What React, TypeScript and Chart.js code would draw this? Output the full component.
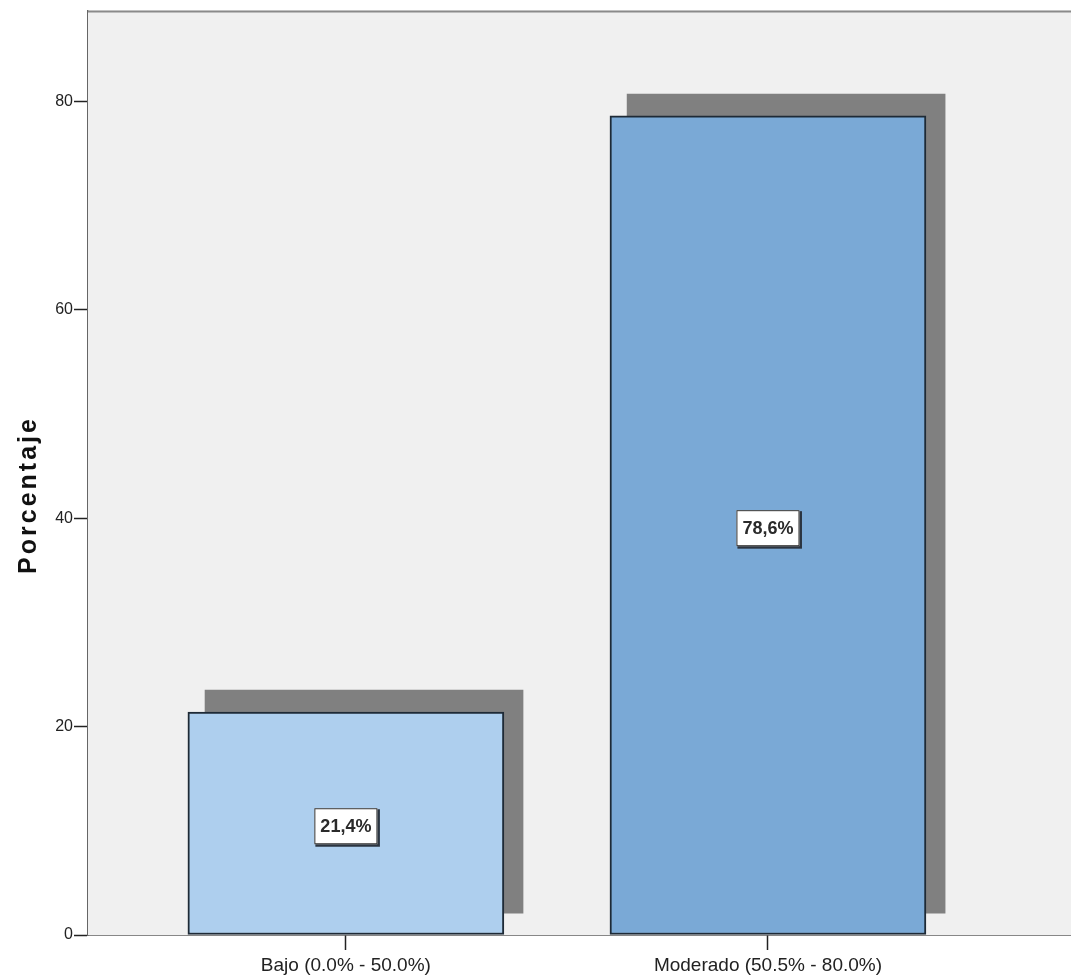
import React, { useEffect, useRef } from "react";
import { Chart, registerables } from "chart.js";

Chart.register(...registerables);

const categories = ["Bajo (0.0% - 50.0%)", "Moderado (50.5% - 80.0%)"];
const percentages = [21.4, 78.6];
const valueLabels = ["21,4%", "78,6%"];
const yTickValues = [0, 20, 40, 60, 80];
const barColors = ["#aecfee", "#7aa9d6"];
const yTitle = "Porcentaje";

// decorative drop shadow offsets (in axis units)
const shadowDx = 0.043;
const shadowBase = 2.1;

const W = 1071;
const H = 978;

const chartDecor = {
  id: "chartDecor",
  beforeDatasetsDraw(chart: any) {
    const { ctx, chartArea } = chart;
    ctx.save();
    ctx.fillStyle = "#f0f0f0";
    ctx.fillRect(chartArea.left, chartArea.top, chartArea.right - chartArea.left, chartArea.bottom - chartArea.top);
    ctx.strokeStyle = "#8a8a8a";
    ctx.lineWidth = 2;
    ctx.beginPath();
    ctx.moveTo(chartArea.left, chartArea.top + 1);
    ctx.lineTo(chartArea.right, chartArea.top + 1);
    ctx.stroke();
    ctx.restore();
  },
  afterDatasetsDraw(chart: any) {
    const { ctx } = chart;
    const meta = chart.getDatasetMeta(1);
    ctx.save();
    meta.data.forEach((bar: any, i: number) => {
      const { x, y, base } = bar.getProps(["x", "y", "base"], true);
      const cy = (y + base) / 2 + 3;
      const text = valueLabels[i];
      ctx.font = 'bold 18px "Liberation Sans", Arial, sans-serif';
      const tw = ctx.measureText(text).width;
      const bw = Math.max(62, tw + 12);
      const bh = 36;
      const bx = x - bw / 2;
      const by = cy - bh / 2;
      ctx.fillStyle = "#2b3440";
      ctx.fillRect(bx + 1, by + 1, bw + 1.5, bh + 1.5);
      ctx.fillStyle = "#ffffff";
      ctx.fillRect(bx, by, bw, bh);
      ctx.strokeStyle = "#333";
      ctx.lineWidth = 1;
      ctx.strokeRect(bx + 0.5, by + 0.5, bw - 1, bh - 1);
      ctx.fillStyle = "#2a2a2a";
      ctx.textAlign = "center";
      ctx.textBaseline = "middle";
      ctx.fillText(text, x, cy + 1);
    });
    ctx.restore();
  },
  afterDraw(chart: any) {
    const { ctx } = chart;
    ctx.save();
    ctx.translate(29, 495);
    ctx.rotate(-Math.PI / 2);
    ctx.font = 'bold 25px "Liberation Sans", Arial, sans-serif';
    try {
      (ctx as any).letterSpacing = "3px";
    } catch (e) {}
    ctx.fillStyle = "#111";
    ctx.textAlign = "center";
    ctx.textBaseline = "middle";
    ctx.fillText(yTitle, 0, 0);
    ctx.restore();
  },
};

export default function App() {
  const ref = useRef<HTMLCanvasElement | null>(null);

  useEffect(() => {
    if (!ref.current) return;
    const chart = new Chart(ref.current, {
      type: "bar",
      data: {
        datasets: [
          {
            label: "shadow",
            data: percentages.map((v, i) => ({ x: i + shadowDx, y: [shadowBase, v + shadowBase] })) as any,
            backgroundColor: "#808080",
            borderWidth: 0,
            barThickness: 318,
            grouped: false,
            order: 2,
          },
          {
            label: "Porcentaje",
            data: percentages.map((v, i) => ({ x: i, y: v })) as any,
            backgroundColor: barColors,
            borderColor: "#1e2a36",
            borderWidth: 2,
            borderSkipped: false,
            barThickness: 316,
            grouped: false,
            order: 1,
          },
        ],
      },
      options: {
        responsive: false,
        animation: false,
        layout: { padding: { top: 9, left: 0, right: 0, bottom: 0 } },
        plugins: {
          legend: { display: false },
          tooltip: { enabled: false },
        },
        scales: {
          x: {
            type: "linear",
            offset: false,
            min: -0.611,
            max: 1.718,
            afterBuildTicks: (scale: any) => {
              scale.ticks = categories.map((_, i) => ({ value: i }));
            },
            afterFit: (scale: any) => {
              scale.height = 43;
            },
            ticks: {
              autoSkip: false,
              maxRotation: 0,
              padding: 4,
              color: "#222",
              font: { family: '"Liberation Sans", Arial, sans-serif', size: 19 },
              callback: (v: any) => categories[v] ?? "",
            },
            grid: { offset: false, drawOnChartArea: false, drawTicks: true, tickLength: 15, tickColor: "#222", tickWidth: 1.5 },
            border: { display: true, color: "#111", width: 1.5 },
          },
          y: {
            type: "linear",
            min: 0,
            max: 88.7,
            afterBuildTicks: (scale: any) => {
              scale.ticks = yTickValues.map((v) => ({ value: v }));
            },
            afterFit: (scale: any) => {
              scale.width = 88;
            },
            ticks: {
              padding: 1,
              color: "#222",
              font: { family: '"Liberation Sans", Arial, sans-serif', size: 16 },
            },
            grid: { drawOnChartArea: false, drawTicks: true, tickLength: 14, tickColor: "#222", tickWidth: 1.5 },
            border: { display: true, color: "#666", width: 1.5 },
          },
        },
      },
      plugins: [chartDecor],
    });
    return () => chart.destroy();
  }, []);

  return (
    <div style={{ position: "fixed", left: 0, top: 0, width: W, height: H, background: "#fff" }}>
      <canvas ref={ref} width={W} height={H} style={{ display: "block", width: W, height: H }} />
    </div>
  );
}
